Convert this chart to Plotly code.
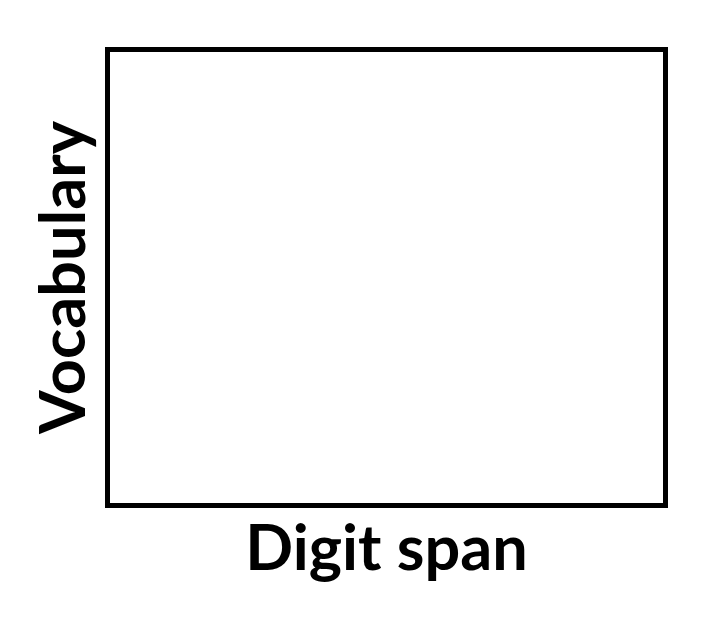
import plotly.graph_objects as go

# the reference shows an empty frame: no points are drawn
digit_span = []
vocabulary = []

x_title = "Digit span"
y_title = "Vocabulary"

fig = go.Figure()
fig.add_trace(go.Scatter(x=digit_span, y=vocabulary, mode="markers",
                         marker=dict(color="black"), showlegend=False))

title_font = dict(family="Lato", size=63, color="black", weight="bold")

fig.update_xaxes(
    title=dict(text=x_title, font=title_font, standoff=20),
    showline=True, mirror=True, linewidth=5, linecolor="black",
    showgrid=False, zeroline=False, showticklabels=False, ticks="",
    range=[0, 1],
)
fig.update_yaxes(
    title=dict(text=y_title, font=title_font, standoff=0),
    showline=True, mirror=True, linewidth=5, linecolor="black",
    showgrid=False, zeroline=False, showticklabels=False, ticks="",
    range=[0, 1],
)

# page adds an 8px body margin, so margins are shifted to put the frame where the reference has it
fig.update_layout(
    width=712, height=624,
    margin=dict(l=102, r=57, t=44, b=129),
    paper_bgcolor="white", plot_bgcolor="white",
)

fig.write_html("out.html")
